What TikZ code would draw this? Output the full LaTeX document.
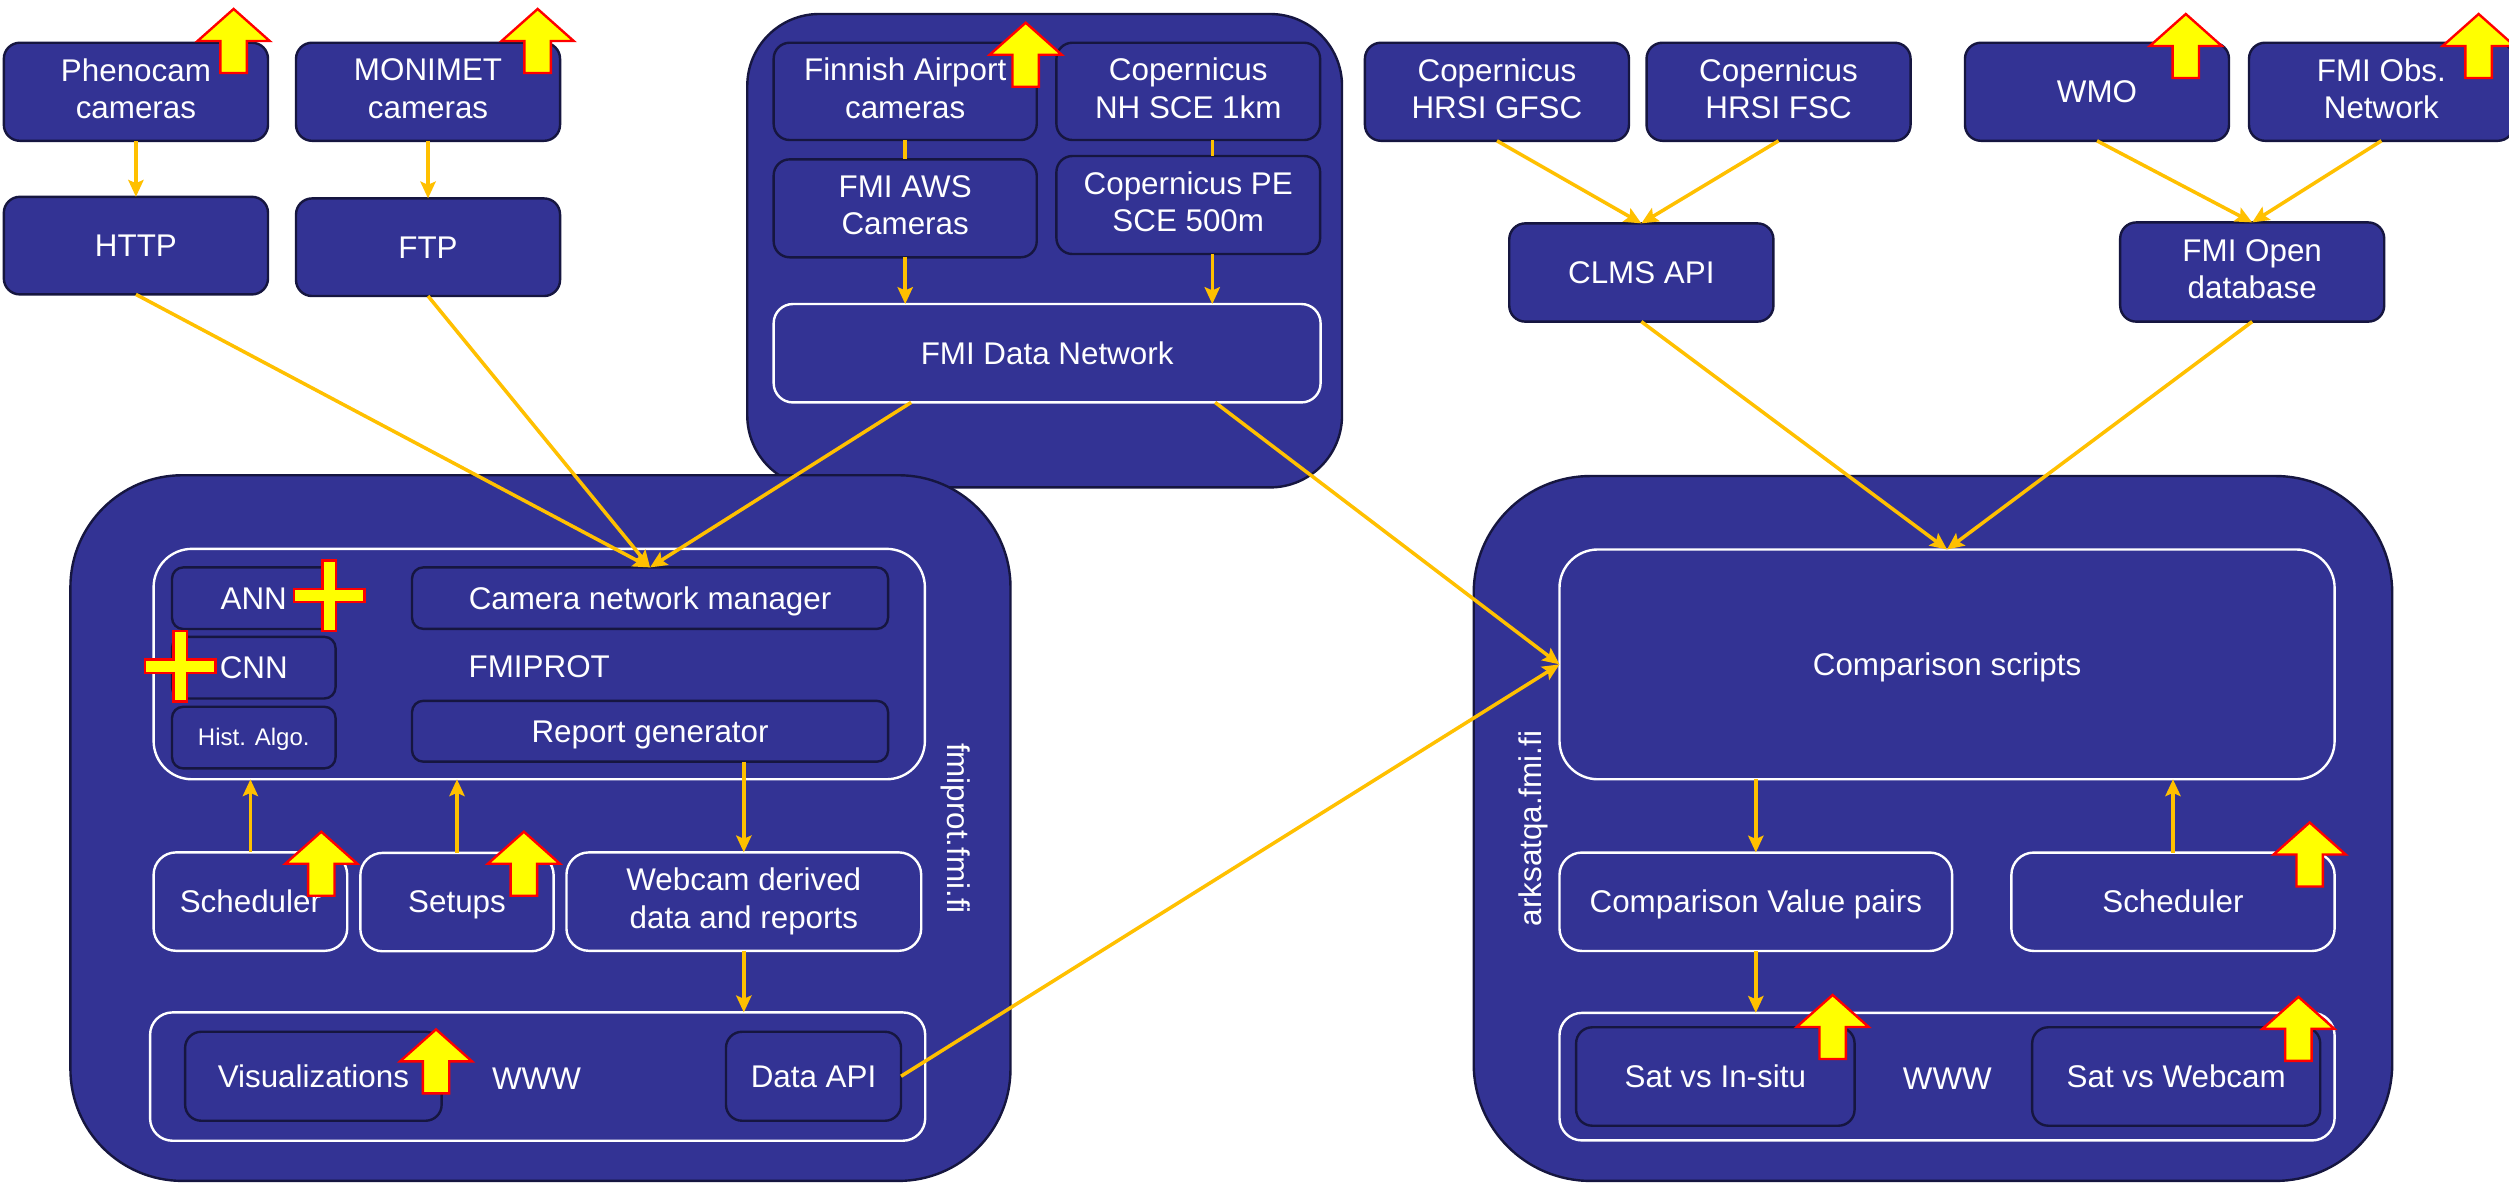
\documentclass[tikz,border=0pt]{standalone}
\usepackage{fontspec}
\setmainfont{Liberation Sans}
\usetikzlibrary{arrows.meta}
\definecolor{bblue}{RGB}{51,51,148}
\definecolor{bedge}{RGB}{22,22,64}
\definecolor{connc}{RGB}{255,192,0}
\definecolor{yfill}{RGB}{255,255,0}
\definecolor{rline}{RGB}{255,0,0}
\newcommand\sv{\rule[-0.212em]{0pt}{1.117em}}
\newcommand\svt{\rule[-0.212em]{0pt}{0.987em}}
\newcommand\mybox[7]{%
  \pgfmathsetmacro\mbcx{(#3+#5)/2}%
  \pgfmathsetmacro\mbcy{(#4+#6)/2}%
  \pgfmathsetmacro\mbw{#5-#3}%
  \pgfmathsetmacro\mbh{#6-#4}%
  \node[#1,minimum width=\mbw bp,minimum height=\mbh bp] (#2) at (\mbcx,\mbcy) {#7};}
\newcommand\yup[2]{\draw[yel] (#1,#2) -- ++(22.5,20) -- ++(-14.25,0) -- ++(0,20) -- ++(-16.5,0) -- ++(0,-20) -- ++(-14.25,0) -- cycle;}
\newcommand\yplus[2]{\draw[yel] (#1-4.2,#2-22) -- (#1+4.2,#2-22) -- (#1+4.2,#2-4.2) -- (#1+22,#2-4.2) -- (#1+22,#2+4.2) -- (#1+4.2,#2+4.2) -- (#1+4.2,#2+22) -- (#1-4.2,#2+22) -- (#1-4.2,#2+4.2) -- (#1-22,#2+4.2) -- (#1-22,#2-4.2) -- (#1-4.2,#2-4.2) -- cycle;}
\begin{document}
\begin{tikzpicture}[x=1bp,y=-1bp,
  txt/.style={text=white,align=center,inner sep=0pt,outer sep=0pt,font=\fontsize{19.6bp}{23.3bp}\selectfont},
  dbox/.style={txt,draw=bedge,fill=bblue,line width=1.5bp,rounded corners=10bp,execute at begin node=\sv},
  sdbox/.style={dbox,rounded corners=7bp},
  wbox/.style={txt,draw=white,fill=bblue,line width=1.5bp,rounded corners=14bp,execute at begin node=\sv},
  two/.style={execute at begin node=\svt},
  bigbox/.style={draw=bedge,fill=bblue,line width=1.5bp,inner sep=0pt,outer sep=0pt},
  lbl/.style={txt},
  conn/.style={draw=connc,line width=2.2bp,-{Stealth[length=10.5bp,width=9.5bp,inset=2bp]}},
  cline/.style={draw=connc,line width=2.2bp},
  yel/.style={fill=yfill,draw=rline,line width=1.5bp,line join=miter}]
\clip (0,0) rectangle (1568,739);
\fill[white] (0,0) rectangle (1568,739);
% top left sources
\mybox{dbox,two}{pheno}{2.4}{26.7}{167.5}{88}{Phenocam\\\sv cameras}
\mybox{dbox}{http}{2.4}{123}{167.5}{184}{HTTP}
\mybox{dbox,two}{moni}{185}{26.7}{350}{88}{MONIMET\\\sv cameras}
\mybox{dbox}{ftp}{185}{124}{350}{185}{FTP}
% FMI data network group
\mybox{bigbox,rounded corners=45bp}{fmibig}{467}{8.75}{838.7}{304.6}{}
\mybox{dbox,two}{finn}{483.5}{26.7}{647.9}{87.5}{Finnish Airport\\\sv cameras}
\mybox{dbox,two}{nh}{660.2}{26.7}{825}{87.5}{Copernicus\\\sv NH SCE 1km}
\mybox{dbox,two}{aws}{483.5}{99.6}{647.9}{160.8}{FMI AWS\\\sv Cameras}
\mybox{dbox,two}{pe}{660.2}{97.5}{825}{158.75}{Copernicus PE\\\sv SCE 500m}
\mybox{wbox,rounded corners=12bp}{fdn}{483.5}{190}{825.3}{251.5}{FMI Data Network}
% top right sources
\mybox{dbox,two}{gfsc}{853}{26.7}{1018}{88}{Copernicus\\\sv HRSI GFSC}
\mybox{dbox,two}{fsc}{1029}{26.7}{1194}{88}{Copernicus\\\sv HRSI FSC}
\mybox{dbox}{clms}{943.2}{139.6}{1108.3}{201}{CLMS API}
\mybox{dbox}{wmo}{1228}{26.7}{1393}{88}{WMO}
\mybox{dbox,two}{obs}{1405.5}{26.7}{1571}{88}{FMI Obs.\\\sv Network}
\mybox{dbox,two}{fopen}{1325}{139}{1490}{201}{FMI Open\\\sv database}
% fmiprot server
\mybox{bigbox,rounded corners=70bp}{leftbig}{44}{297}{631.5}{738}{}
\mybox{wbox,rounded corners=24bp}{fmiprot}{96}{343}{578}{487}{}
\mybox{sdbox}{ann}{107.5}{354.6}{209.7}{393.1}{ANN}
\mybox{sdbox}{cnn}{107.5}{398}{209.7}{436.5}{CNN}
\mybox{sdbox,font=\fontsize{15bp}{18bp}\selectfont}{hist}{107.5}{441.7}{209.7}{480.2}{Hist. Algo.}
\mybox{sdbox}{cnm}{257.5}{354.6}{555}{393}{Camera network manager}
\mybox{sdbox}{report}{257.5}{438}{555}{476}{Report generator}
\node[txt] (fmiprottxt) at (337,416.7) {FMIPROT};
\mybox{wbox}{sched}{96}{532.7}{217}{594.2}{Scheduler}
\mybox{wbox}{setups}{225.2}{533}{346}{594.5}{Setups}
\mybox{wbox,two}{webcam}{354}{532.7}{575.7}{594.2}{Webcam derived\\\sv data and reports}
\mybox{wbox}{www}{93.8}{632.7}{578.2}{712.9}{}
\mybox{dbox}{vis}{115.7}{644.8}{276}{700.4}{Visualizations}
\mybox{dbox}{api}{453.7}{644.8}{563.1}{700.4}{Data API}
\node[txt] (wwwtxt) at (335.3,674) {WWW};
\node[lbl,rotate=-90] (fmiprotlbl) at (597,517.7) {fmiprot.fmi.fi};
% arksatqa server
\mybox{bigbox,rounded corners=73bp}{rightbig}{921}{297.5}{1495}{738}{}
\mybox{wbox,rounded corners=24bp}{cs}{974.6}{343.4}{1459}{487}{Comparison scripts}
\mybox{wbox}{cvp}{974.6}{532.8}{1220}{594.3}{Comparison Value pairs}
\mybox{wbox}{sched2}{1257}{532.8}{1459}{594.3}{Scheduler}
\mybox{wbox}{www2}{974.6}{633}{1459}{712.7}{}
\mybox{dbox}{insitu}{985}{642}{1159}{703.5}{Sat vs In-situ}
\mybox{dbox}{satweb}{1270}{642}{1450}{703.5}{Sat vs Webcam}
\node[txt] (www2txt) at (1217,674) {WWW};
\node[lbl,rotate=90] (arklbl) at (958,517.7) {arksatqa.fmi.fi};
% connectors
\draw[conn] (pheno.south) -- (http.north);
\draw[conn] (moni.south) -- (ftp.north);
\draw[conn] (http.south) -- (cnm.north);
\draw[conn] (ftp.south) -- (cnm.north);
\draw[conn] ([xshift=-85bp]fdn.south) -- (cnm.north);
\draw[conn] ([xshift=105bp]fdn.south) -- (cs.west);
\draw[cline] (finn.south) -- (aws.north);
\draw[cline] ([xshift=15bp]nh.south) -- ([xshift=15bp]pe.north);
\draw[conn] (aws.south) -- (aws.south |- fdn.north);
\draw[conn] ([xshift=15bp]pe.south) -- ([xshift=15bp]pe.south |- fdn.north);
\draw[conn] (gfsc.south) -- (clms.north);
\draw[conn] (fsc.south) -- (clms.north);
\draw[conn] (wmo.south) -- (fopen.north);
\draw[conn] (obs.south) -- (fopen.north);
\draw[conn] (clms.south) -- (cs.north);
\draw[conn] (fopen.south) -- (cs.north);
\draw[conn] (sched.north) -- (sched.north |- fmiprot.south);
\draw[conn] (setups.north) -- (setups.north |- fmiprot.south);
\draw[conn] (webcam.north |- report.south) -- (webcam.north);
\draw[conn] (webcam.south) -- (webcam.south |- www.north);
\draw[conn] (api.east) -- (cs.west);
\draw[conn] (cvp.north |- cs.south) -- (cvp.north);
\draw[conn] (cvp.south) -- (cvp.south |- www2.north);
\draw[conn] (sched2.north) -- (sched2.north |- cs.south);
% yellow markers
\yup{146}{5.6}
\yup{336}{5.6}
\yup{641}{14.2}
\yup{1366}{8.75}
\yup{1549}{8.75}
\yup{200.8}{519.8}
\yup{327.4}{519.8}
\yup{272.5}{643.3}
\yup{1443.4}{514}
\yup{1145.3}{621.8}
\yup{1436.4}{623}
\yplus{205.7}{372.2}
\yplus{112.6}{416.4}
\end{tikzpicture}
\end{document}
